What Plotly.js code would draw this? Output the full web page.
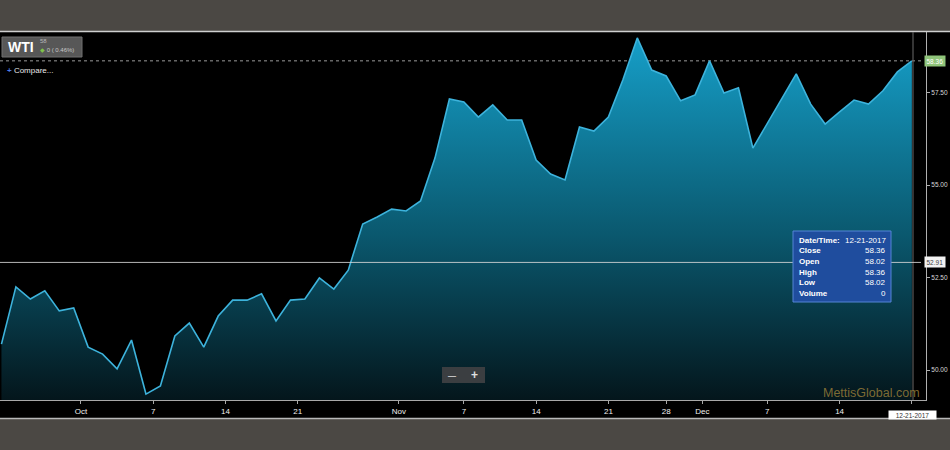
<!DOCTYPE html>
<html>
<head>
<meta charset="utf-8">
<script src="https://cdn.plot.ly/plotly-3.0.1.min.js"></script>
<style>html,body{margin:0;padding:0;background:#4b4844;}#chart{width:950px;height:450px;}</style>
</head>
<body>
<div id="chart"></div>
<script>
// ---- data ----
const dates = [
  '2017-09-22','2017-09-25','2017-09-26','2017-09-27','2017-09-28','2017-09-29',
  '2017-10-02','2017-10-03','2017-10-04','2017-10-05','2017-10-06',
  '2017-10-09','2017-10-10','2017-10-11','2017-10-12','2017-10-13',
  '2017-10-16','2017-10-17','2017-10-18','2017-10-19','2017-10-20',
  '2017-10-23','2017-10-24','2017-10-25','2017-10-26','2017-10-27',
  '2017-10-30','2017-10-31','2017-11-01','2017-11-02','2017-11-03',
  '2017-11-06','2017-11-07','2017-11-08','2017-11-09','2017-11-10',
  '2017-11-13','2017-11-14','2017-11-15','2017-11-16','2017-11-17',
  '2017-11-20','2017-11-21','2017-11-22','2017-11-24',
  '2017-11-27','2017-11-28','2017-11-29','2017-11-30','2017-12-01',
  '2017-12-04','2017-12-05','2017-12-06','2017-12-07','2017-12-08',
  '2017-12-11','2017-12-12','2017-12-13','2017-12-14','2017-12-15',
  '2017-12-18','2017-12-19','2017-12-20','2017-12-21'
];
const closes = [
  50.70, 52.25, 51.92, 52.14, 51.60, 51.68,
  50.62, 50.43, 50.03, 50.81, 49.35,
  49.57, 50.92, 51.27, 50.62, 51.46,
  51.89, 51.89, 52.06, 51.33, 51.89,
  51.92, 52.49, 52.19, 52.70, 53.95,
  54.14, 54.35, 54.30, 54.57, 55.73,
  57.33, 57.25, 56.84, 57.17, 56.76,
  56.76, 55.68, 55.30, 55.14, 56.57,
  56.46, 56.84, 57.84, 58.98,
  58.11, 57.95, 57.28, 57.44, 58.36,
  57.49, 57.63, 56.00, 56.68, 57.33,
  58.01, 57.19, 56.65, 56.98, 57.30,
  57.19, 57.55, 58.06, 58.36
];
const xTickVals = ['2017-09-29 12:00','2017-10-06 12:00','2017-10-13 12:00','2017-10-20 12:00',
  '2017-10-31 12:00','2017-11-07','2017-11-14','2017-11-21','2017-11-28','2017-11-30 12:00',
  '2017-12-07','2017-12-14','2017-12-21'];
const xTickText = ['Oct','7','14','21','Nov','7','14','21','28','Dec','7','14',''];
const yTickVals = [50, 52.5, 55, 57.5];
const yTickText = ['50.00','52.50','55.00','57.50'];
const lastClose = 58.36;
const refLevel = 52.91;
const tipLabels = ['Date/Time:','Close','Open','High','Low','Volume'];
const tipValues = ['12-21-2017','58.36','58.02','58.36','58.02','0'];
const symbol = 'WTI';

// ---- layout helpers (pixel -> paper) ----
const PW = 926, PT = 32, PB = 400, PH = PB - PT;
const px = x => x / PW;
const py = y => (PB - y) / PH;
const FONT = '"Liberation Sans", Arial, sans-serif';

const trace = {
  x: dates, y: closes, type: 'scatter', mode: 'lines',
  line: {color: '#3db3dc', width: 1.6},
  fill: 'tozeroy',
  fillcolor: 'rgba(12,110,140,0.9)',
  fillgradient: {type: 'vertical', start: 49.19, stop: 59.1,
    colorscale: [[0, 'rgb(4,22,28)'], [0.45, 'rgb(10,88,110)'], [1, 'rgb(22,160,202)']]},
  hoverinfo: 'skip'
};

const shapes = [
  {type:'rect', xref:'paper', yref:'paper', x0:px(0), x1:px(950), y0:py(418), y1:py(32), fillcolor:'#000', line:{width:0}, layer:'below'},
  {type:'line', xref:'paper', yref:'paper', x0:px(0), x1:px(950), y0:py(31.5), y1:py(31.5), line:{color:'#cfcfcf', width:1.5}},
  {type:'line', xref:'paper', yref:'paper', x0:px(0), x1:px(950), y0:py(418.5), y1:py(418.5), line:{color:'#b8b8b8', width:1.5}},
  {type:'line', xref:'paper', yref:'paper', x0:px(913), x1:px(913), y0:py(32), y1:py(400), line:{color:'#6a6a6a', width:1}},
  {type:'line', xref:'paper', yref:'y', x0:0, x1:px(921), y0:lastClose, y1:lastClose, line:{color:'#9a9a9a', width:1, dash:'dot'}, layer:'between'},
  {type:'line', xref:'paper', yref:'y', x0:0, x1:px(921), y0:refLevel, y1:refLevel, line:{color:'rgba(215,215,215,0.85)', width:1}},
  {type:'rect', xref:'paper', yref:'paper', x0:px(2), x1:px(82), y0:py(57), y1:py(37), fillcolor:'#575757', line:{color:'#707070', width:1}},
  {type:'rect', xref:'paper', yref:'paper', x0:px(793), x1:px(891), y0:py(302), y1:py(231), fillcolor:'#1f4d9e', line:{color:'#5585d6', width:1}},
  {type:'rect', xref:'paper', yref:'paper', x0:px(442), x1:px(485), y0:py(383), y1:py(367), fillcolor:'#3b3e41', line:{width:0}}
];

const annotations = [
  {xref:'paper', yref:'paper', x:px(6), y:py(47), xanchor:'left', yanchor:'middle', showarrow:false,
   text:'<b>'+symbol+'</b>', font:{family:FONT, size:14, color:'#ffffff'}},
  {xref:'paper', yref:'paper', x:px(38), y:py(41.5), xanchor:'left', yanchor:'middle', showarrow:false,
   text:'58', font:{family:FONT, size:6, color:'#b8b8b8'}},
  {xref:'paper', yref:'paper', x:px(38), y:py(50), xanchor:'left', yanchor:'middle', showarrow:false,
   text:'<span style="color:#7fc24a">&#9670;</span> 0 ( 0.46%)', font:{family:FONT, size:6, color:'#c8c8c8'}},
  {xref:'paper', yref:'paper', x:px(5), y:py(71), xanchor:'left', yanchor:'middle', showarrow:false,
   text:'<span style="color:#4d7be6"><b>+</b></span> Compare...', font:{family:FONT, size:8, color:'#e8e8e8'}},
  {xref:'paper', yref:'y', x:px(934.5), y:lastClose, xanchor:'center', yanchor:'middle', showarrow:false,
   text:lastClose.toFixed(2), bgcolor:'#8fc47a', borderpad:1.5, font:{family:FONT, size:6.5, color:'#ffffff'}},
  {xref:'paper', yref:'y', x:px(934.5), y:refLevel, xanchor:'center', yanchor:'middle', showarrow:false,
   text:refLevel.toFixed(2), bgcolor:'#f2f2f2', borderpad:1.5, font:{family:FONT, size:6.5, color:'#444'}},
  {xref:'paper', yref:'paper', x:px(922), y:py(393), xanchor:'right', yanchor:'middle', showarrow:false,
   text:'MettisGlobal.com', font:{family:FONT, size:12.5, color:'rgba(140,118,55,0.9)'}},
  {xref:'paper', yref:'paper', x:px(912), y:py(414.5), xanchor:'center', yanchor:'middle', showarrow:false,
   text:tipValues[0], bgcolor:'#ffffff', width:46, height:7, borderpad:0.5, font:{family:FONT, size:6.5, color:'#333'}},
  {xref:'paper', yref:'paper', x:px(452), y:py(375), xanchor:'center', yanchor:'middle', showarrow:false,
   text:'<b>&#8212;</b>', font:{family:FONT, size:8, color:'#e0e0e0'}},
  {xref:'paper', yref:'paper', x:px(474), y:py(375), xanchor:'center', yanchor:'middle', showarrow:false,
   text:'<b>+</b>', font:{family:FONT, size:12, color:'#e0e0e0'}}
];
const rowY = [240, 251, 261.5, 272, 282.5, 293];
tipLabels.forEach((lab, i) => {
  annotations.push({xref:'paper', yref:'paper', x:px(797), y:py(rowY[i]), xanchor:'left', yanchor:'middle', showarrow:false,
    text:'<b>'+lab+'</b>', font:{family:FONT, size:8, color:'#ffffff'}});
  annotations.push({xref:'paper', yref:'paper', x:px(888), y:py(rowY[i]), xanchor:'right', yanchor:'middle', showarrow:false,
    text:tipValues[i], font:{family:FONT, size:8, color:'#ffffff'}});
});

const layout = {
  width: 950, height: 450,
  margin: {l: 0, r: 950 - PW, t: PT, b: 450 - PB, pad: 0},
  paper_bgcolor: '#4b4844', plot_bgcolor: '#000000',
  showlegend: false,
  xaxis: {
    type: 'date', range: ['2017-09-21 21:36', '2017-12-21 23:30'],
    rangebreaks: [{bounds: ['sat', 'mon']}, {values: ['2017-11-23']}],
    tickmode: 'array', tickvals: xTickVals, ticktext: xTickText,
    showgrid: false, zeroline: false, showline: true, linecolor: '#a8a8a8', linewidth: 1,
    ticks: 'outside', ticklen: 3, tickcolor: '#a8a8a8',
    tickfont: {family: FONT, size: 8, color: '#f0f0f0'}, fixedrange: true
  },
  yaxis: {
    side: 'right', range: [49.19, 59.14],
    tickmode: 'array', tickvals: yTickVals, ticktext: yTickText,
    showgrid: false, zeroline: false, showline: true, linecolor: '#b0b0b0', linewidth: 1,
    ticks: 'outside', ticklen: 3, tickcolor: '#b0b0b0',
    tickfont: {family: FONT, size: 6.5, color: '#d8d8d8'}, fixedrange: true
  },
  shapes: shapes,
  annotations: annotations
};

Plotly.newPlot('chart', [trace], layout, {displayModeBar: false, staticPlot: true});
</script>
</body>
</html>
